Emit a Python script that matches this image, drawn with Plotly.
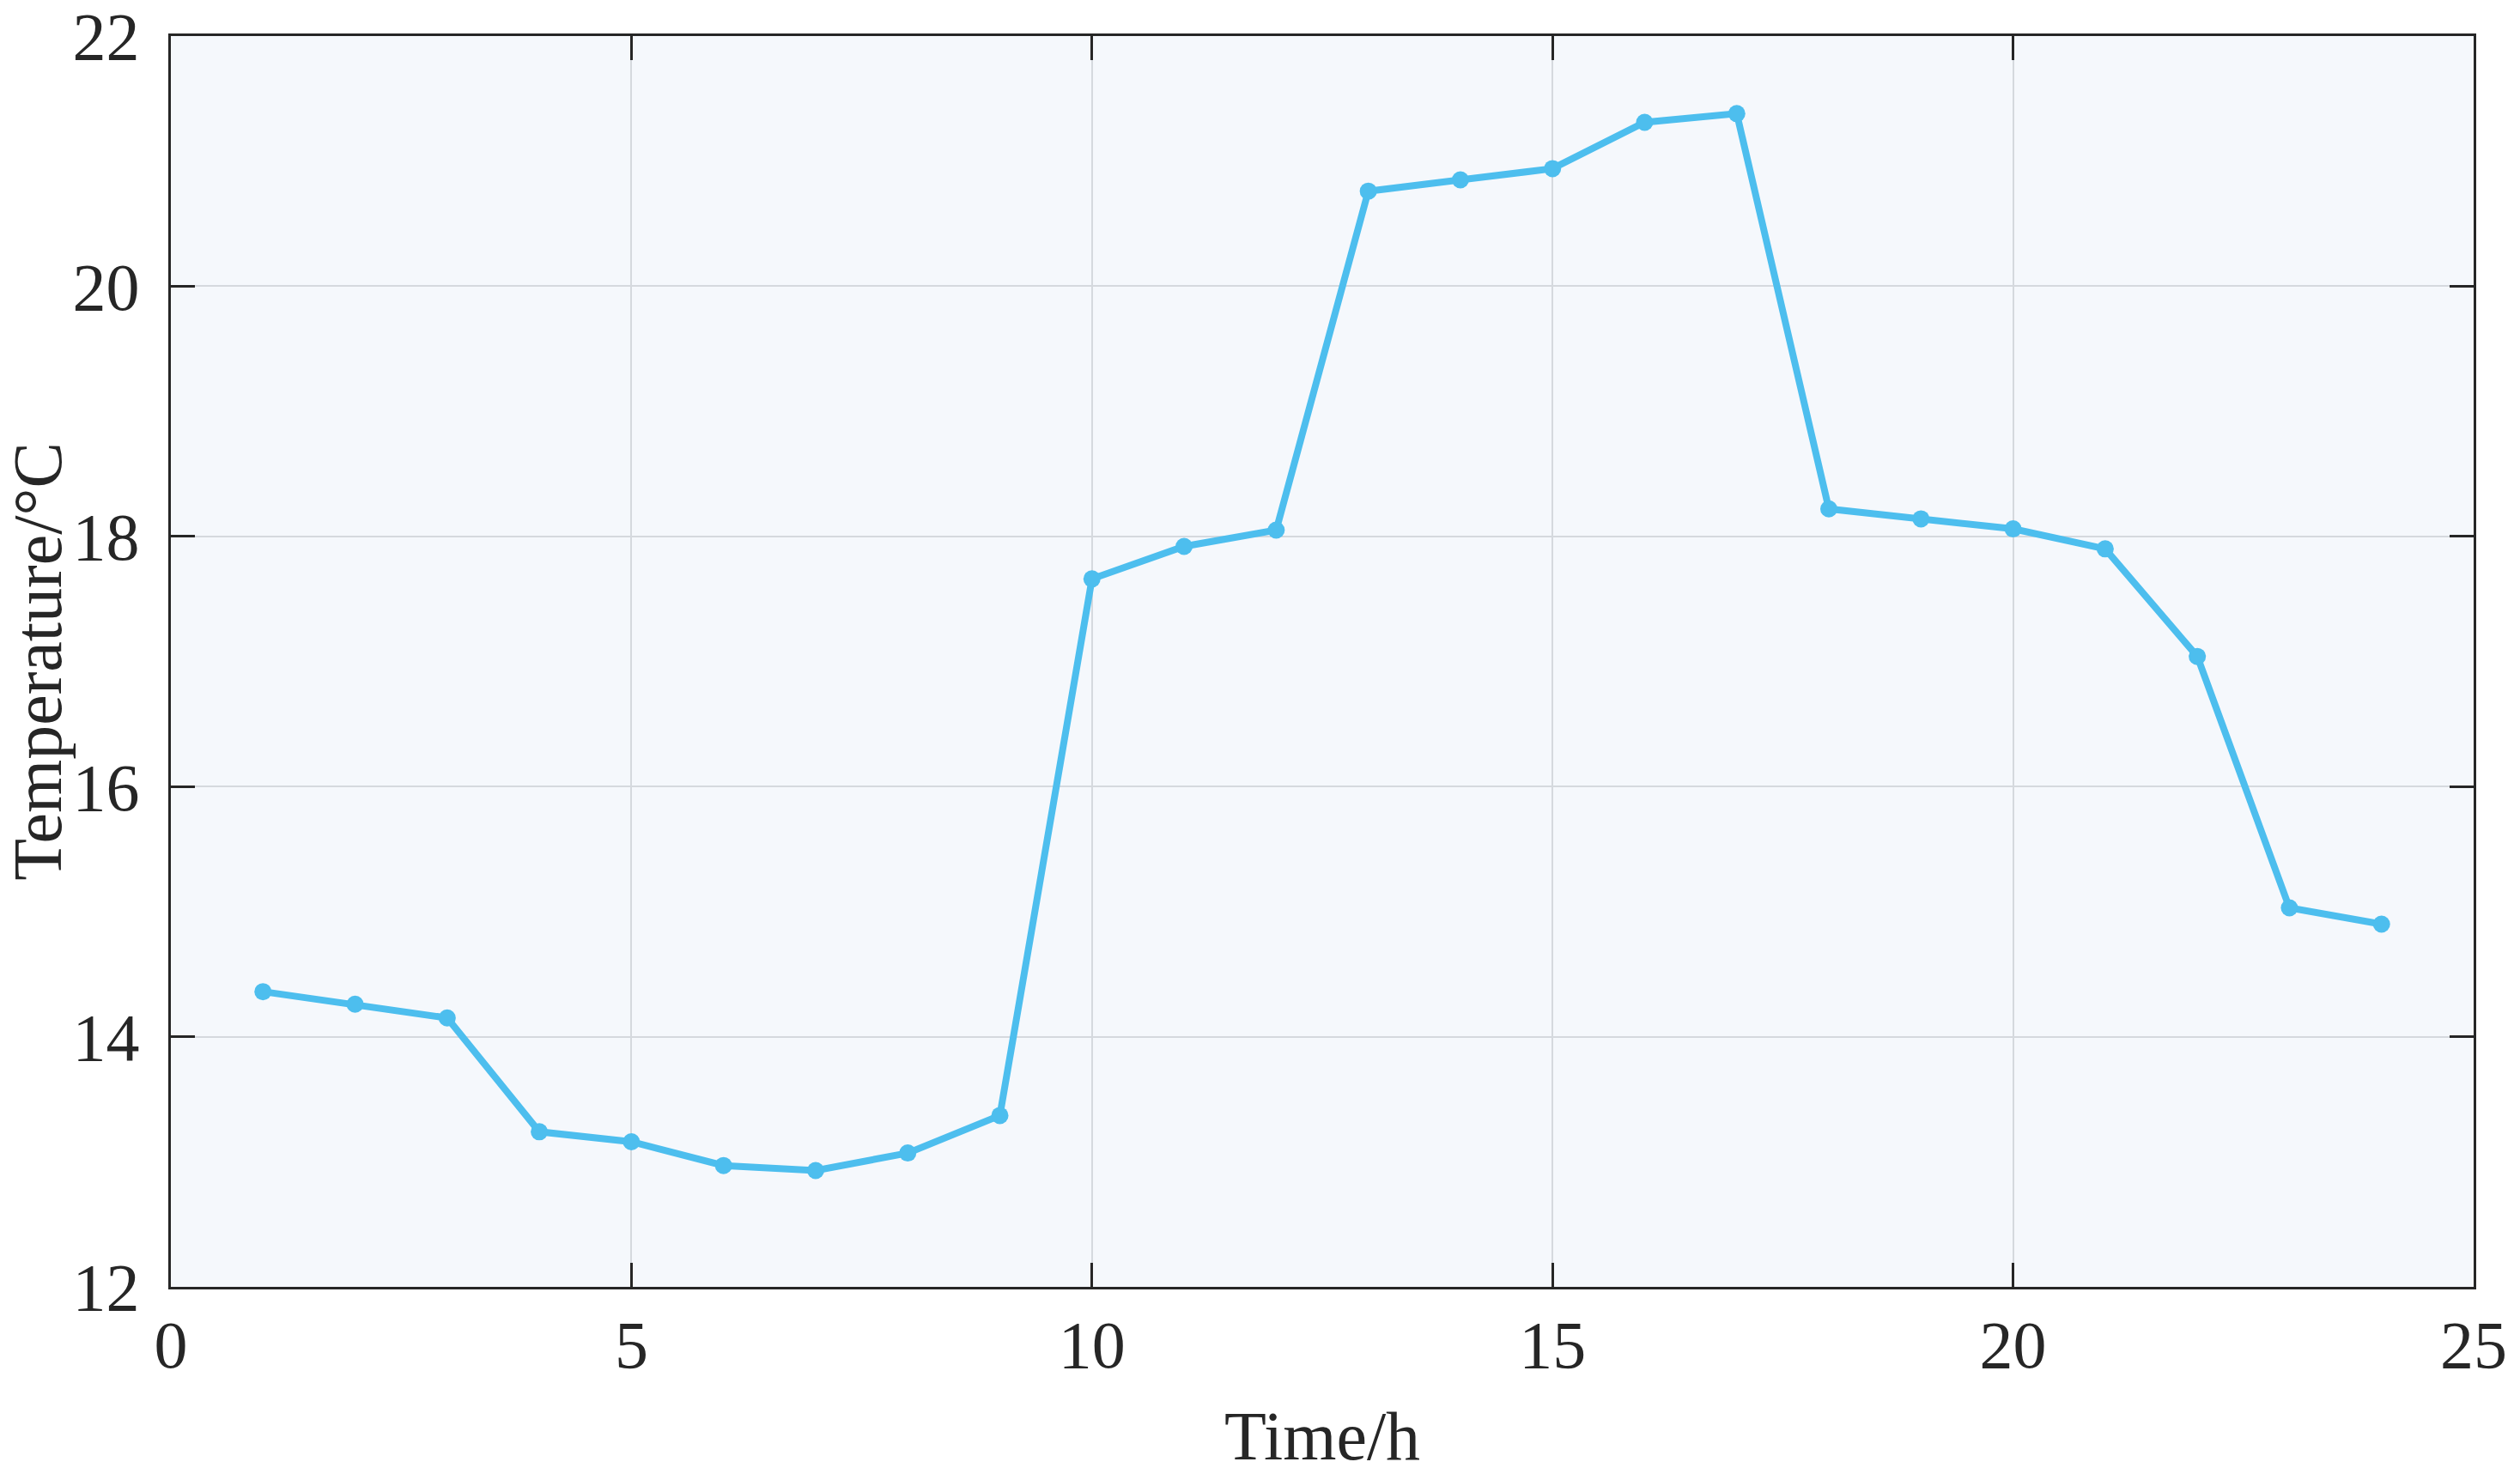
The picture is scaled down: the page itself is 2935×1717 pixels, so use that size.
import plotly.graph_objects as go

hours = list(range(1, 25))
temperature = [14.36, 14.26, 14.15, 13.24, 13.16, 12.97, 12.93, 13.07, 13.37,
               17.66, 17.92, 18.05, 20.76, 20.85, 20.94, 21.31, 21.38,
               18.22, 18.14, 18.06, 17.90, 17.04, 15.03, 14.90]

x_ticks = [0, 5, 10, 15, 20, 25]
y_ticks = [12, 14, 16, 18, 20, 22]

LINE_COLOR = "#4DBEEE"
AXIS_COLOR = "#262626"
FONT = "Liberation Serif"

fig = go.Figure()
fig.add_trace(go.Scatter(
    x=hours, y=temperature, mode="lines+markers",
    line=dict(color=LINE_COLOR, width=8),
    marker=dict(color=LINE_COLOR, size=20, line=dict(width=0)),
    showlegend=False,
))

axis_common = dict(
    showline=True, linecolor=AXIS_COLOR, linewidth=3, mirror="allticks",
    ticks="inside", ticklen=28, tickwidth=2.5, tickcolor=AXIS_COLOR,
    showgrid=True, gridcolor="#D5D9DE", gridwidth=2,
    zeroline=False, ticklabeloverflow="allow",
    tickfont=dict(family=FONT, size=78, color=AXIS_COLOR),
)

fig.update_xaxes(
    range=[0, 25], tickvals=x_ticks, ticktext=[str(v) for v in x_ticks],
    title=dict(text="Time/h", font=dict(family=FONT, size=80, color=AXIS_COLOR), standoff=52),
    ticklabelstandoff=-3,
    **axis_common,
)
fig.update_yaxes(
    range=[12, 22], tickvals=y_ticks, ticktext=[str(v) for v in y_ticks],
    title=dict(text="Temperature/°C", font=dict(family=FONT, size=80, color=AXIS_COLOR), standoff=26),
    ticklabelstandoff=18,
    **axis_common,
)

fig.update_layout(
    width=2935, height=1717,
    margin=dict(l=198.5, r=53.5, t=41.5, b=217.5, autoexpand=False),
    plot_bgcolor="#F5F8FC", paper_bgcolor="white",
    font=dict(family=FONT, color=AXIS_COLOR),
)

fig.write_html("out.html", config={"displayModeBar": False},
               post_script="document.body.style.margin='0px';document.body.style.overflow='hidden';")
